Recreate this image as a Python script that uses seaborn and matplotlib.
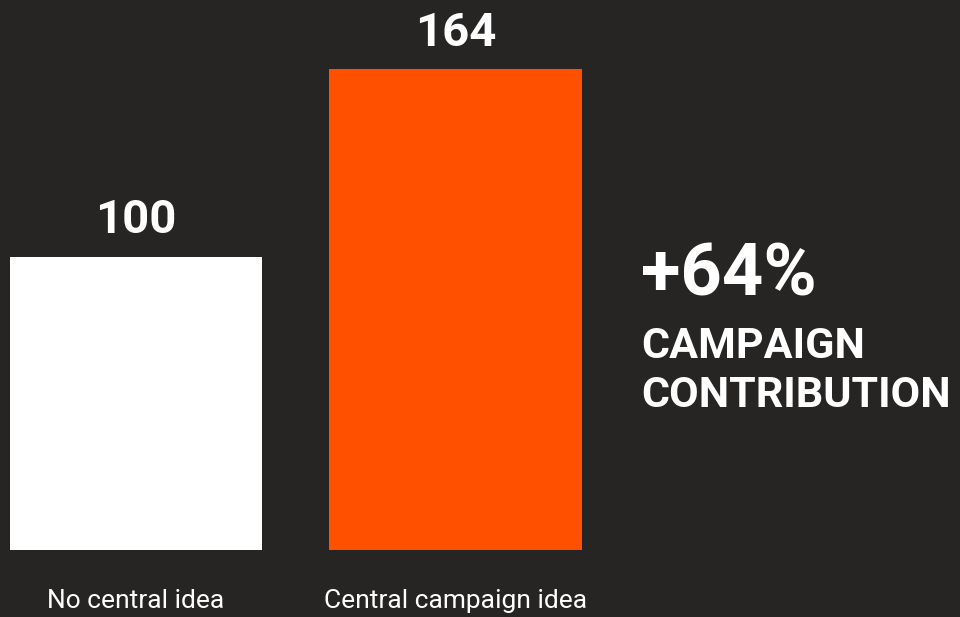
import matplotlib
matplotlib.use("Agg")
import matplotlib.pyplot as plt
import seaborn as sns
import pandas as pd

categories = ["No central idea", "Central campaign idea"]
values = [100, 164]
bar_colors = ["#FFFFFF", "#FF5000"]
value_labels = ["100", "164"]
headline = "+64%"
subline = ["CAMPAIGN", "CONTRIBUTION"]

BG = "#262524"
W, H, DPI = 960, 617, 100

sns.set_theme(style="white")
plt.rcParams["font.family"] = ["Roboto", "DejaVu Sans"]

fig = plt.figure(figsize=(W / DPI, H / DPI), dpi=DPI, facecolor=BG)
ax = fig.add_axes([0, 67 / H, 1, 550 / H])
ax.set_facecolor(BG)

df = pd.DataFrame({"category": categories, "value": values})
sns.barplot(data=df, x="category", y="value", hue="category",
            palette=bar_colors, width=0.789, saturation=1,
            legend=False, ax=ax, linewidth=0, edgecolor="none")

spacing = 319.5
ax.set_xlim(-136 / spacing, (W - 136) / spacing)
ax.set_ylim(0, 550 / 2.93)
ax.axis("off")

for i, (v, lab) in enumerate(zip(values, value_labels)):
    ax.annotate(lab, (i, v), xytext=(0, 17), textcoords="offset points",
                ha="center", va="baseline", color="white",
                fontsize=34, fontweight="bold")

for i, c in enumerate(categories):
    ax.annotate(c, (i, 0), xytext=(0, -41.5), textcoords="offset points",
                ha="center", va="baseline", color="white",
                fontsize=19, annotation_clip=False)

fig.text(641 / W, (H - 295) / H, headline, color="white", fontsize=52,
         fontweight="bold", ha="left", va="baseline")
fig.text(641 / W, (H - 358) / H, subline[0], color="white", fontsize=31,
         fontweight="bold", ha="left", va="baseline")
fig.text(641 / W, (H - 407) / H, subline[1], color="white", fontsize=31,
         fontweight="bold", ha="left", va="baseline")

fig.savefig("out.png", dpi=DPI, facecolor=BG)
